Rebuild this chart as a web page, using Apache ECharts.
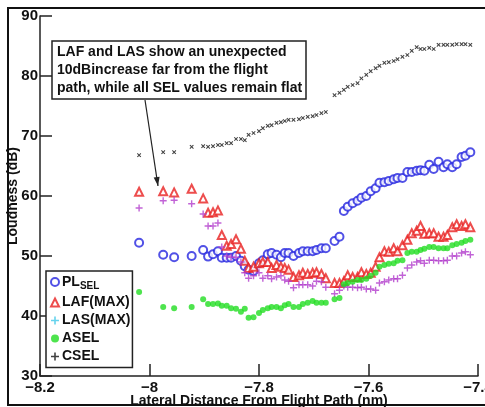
<!DOCTYPE html>
<html>
<head>
<meta charset="utf-8">
<script src="https://cdn.jsdelivr.net/npm/echarts@6/dist/echarts.min.js"></script>
<style>
html,body{margin:0;padding:0;background:#fff;}
#chart{width:485px;height:407px;}
</style>
</head>
<body>
<div id="chart"></div>
<script>
// Lateral distance from flight path (nm)
const distance = [-8.019,-7.975,-7.955,-7.923,-7.902,-7.893,-7.884,-7.875,-7.868,-7.859,-7.851,-7.842,-7.833,-7.826,-7.819,-7.810,-7.800,-7.793,-7.784,-7.777,-7.768,-7.760,-7.753,-7.746,-7.737,-7.727,-7.720,-7.711,-7.702,-7.695,-7.686,-7.678,-7.662,-7.653,-7.645,-7.638,-7.629,-7.620,-7.613,-7.604,-7.596,-7.587,-7.580,-7.571,-7.563,-7.554,-7.547,-7.538,-7.529,-7.521,-7.512,-7.505,-7.498,-7.489,-7.481,-7.472,-7.463,-7.456,-7.447,-7.439,-7.430,-7.423,-7.414];
const plSel = [52.2,50.2,49.8,50.0,51.0,49.9,50.3,50.8,49.7,49.7,49.7,50.0,49.2,48.3,47.7,47.5,48.8,49.3,50.3,50.5,50.2,49.8,50.5,50.5,50.0,50.5,50.8,50.8,50.8,51.0,51.3,51.3,52.5,53.2,57.5,58.2,58.8,59.2,59.7,60.0,60.8,61.3,62.2,62.3,62.5,62.8,63.0,63.0,64.0,64.0,64.2,64.3,64.2,65.2,64.5,65.7,64.8,65.3,64.8,65.3,66.5,66.7,67.3];
const lafMax = [60.7,60.8,60.6,61.2,59.6,57.2,57.3,57.6,53.5,51.7,52.0,52.8,51.2,49.2,48.0,48.2,48.8,49.0,49.0,48.0,48.5,48.2,48.0,47.7,46.5,46.8,47.2,47.0,47.2,47.3,47.0,46.3,45.5,45.5,45.8,46.8,46.5,46.5,47.3,47.0,47.2,48.2,49.8,50.8,50.7,51.3,50.8,51.8,52.7,53.8,54.2,55.0,53.7,53.8,53.8,53.2,53.2,53.5,54.8,55.3,55.0,55.3,54.8];
const lasMax = [58.0,59.2,59.3,58.7,57.0,55.0,55.0,55.5,51.5,50.0,49.8,49.8,49.0,47.2,46.3,46.7,47.2,46.3,46.7,46.2,46.5,46.7,46.0,45.8,44.7,45.2,45.2,45.2,45.0,45.8,45.7,44.8,43.7,44.3,45.0,44.8,44.8,44.7,44.8,44.5,44.5,44.3,45.5,45.7,46.0,46.2,46.2,46.8,48.0,48.5,49.0,49.2,48.8,49.3,49.3,49.2,49.2,49.3,50.0,50.0,50.5,50.7,50.2];
const aSel = [44.0,41.5,41.3,41.5,42.8,42.0,42.0,42.1,41.7,41.7,41.3,41.2,40.7,41.2,39.7,39.8,40.5,41.0,41.3,41.5,41.5,41.3,41.8,42.0,41.5,41.5,42.0,42.2,42.5,42.2,42.2,42.2,42.8,43.0,45.3,45.5,45.7,46.0,46.0,46.2,46.7,47.2,48.2,48.5,48.7,48.8,49.2,49.3,50.5,50.7,50.7,51.0,51.2,51.5,51.5,51.3,51.3,51.3,51.8,52.0,52.2,52.5,52.7];
const cSel = [66.8,67.3,67.3,68.2,68.3,68.2,68.3,68.5,68.5,68.8,68.8,69.5,69.5,69.3,70.2,70.5,70.8,71.3,71.7,71.8,72.2,72.3,72.5,72.7,72.7,72.8,73.0,73.2,73.3,73.5,73.8,74.0,76.8,77.2,77.7,78.2,78.5,78.8,79.6,80.2,80.8,81.3,81.7,82.2,82.3,82.5,82.8,83.2,83.5,84.2,84.8,84.5,84.5,84.7,84.5,85.2,85.2,85.2,85.2,85.3,85.3,85.3,85.2];
const seriesNames = ['PL_SEL','LAF(MAX)','LAS(MAX)','ASEL','CSEL'];
const annotationLines = ['LAF and LAS show an unexpected','10dBincrease far from the flight','path, while all SEL values remain flat'];

const FONT = '"Liberation Sans", Arial, Helvetica, sans-serif';
const PLUS = 'path://M4,0H6V4H10V6H6V10H4V6H0V4H4Z';
const pair = ys => distance.map((x, i) => [x, ys[i]]);
const fmt = v => { const r = Math.round(v * 10) / 10; return String(r).replace('-', '\u2212'); };

const chart = echarts.init(document.getElementById('chart'), null, {renderer: 'canvas'});

const arrowStart = [145, 100], arrowEnd = [158, 186];
const ang = Math.atan2(arrowEnd[1] - arrowStart[1], arrowEnd[0] - arrowStart[0]);
const ah = 9, aw = 3;
const headPts = [
  arrowEnd,
  [arrowEnd[0] - ah * Math.cos(ang) + aw * Math.sin(ang), arrowEnd[1] - ah * Math.sin(ang) - aw * Math.cos(ang)],
  [arrowEnd[0] - ah * Math.cos(ang) - aw * Math.sin(ang), arrowEnd[1] - ah * Math.sin(ang) + aw * Math.cos(ang)]
];

chart.setOption({
  animation: false,
  backgroundColor: '#fff',
  grid: {left: 40, right: 7, top: 16, bottom: 31, containLabel: false, outerBoundsMode: 'none'},
  xAxis: {
    type: 'value', min: -8.2, max: -7.4, interval: 0.2,
    name: 'Lateral Distance From Flight Path (nm)', nameLocation: 'middle', nameGap: 18, nameMoveOverlap: false,
    nameTextStyle: {fontFamily: FONT, fontWeight: 'bold', fontSize: 14, color: '#111'},
    axisLine: {show: true, lineStyle: {color: '#222', width: 1.5}},
    axisTick: {show: true, inside: true, length: 12, lineStyle: {color: '#222', width: 1.5}},
    axisLabel: {formatter: fmt, fontFamily: FONT, fontWeight: 'bold', fontSize: 15, color: '#111', margin: 4},
    splitLine: {show: false}
  },
  yAxis: {
    type: 'value', min: 30, max: 90, interval: 10,
    name: 'Loudness (dB)', nameLocation: 'middle', nameGap: 20, nameMoveOverlap: false,
    nameTextStyle: {fontFamily: FONT, fontWeight: 'bold', fontSize: 14, color: '#111'},
    axisLine: {show: true, lineStyle: {color: '#222', width: 1.5}},
    axisTick: {show: true, inside: true, length: 12, lineStyle: {color: '#222', width: 1.5}},
    axisLabel: {fontFamily: FONT, fontWeight: 'bold', fontSize: 15, color: '#111', margin: 2},
    splitLine: {show: false}
  },
  legend: {
    orient: 'vertical', left: 46, top: 271,
    padding: [4, 2, 4, 4], itemGap: 4, itemWidth: 8, itemHeight: 8,
    borderColor: '#222', borderWidth: 1.5, backgroundColor: '#fff',
    data: [
      {name: seriesNames[0]},
      {name: seriesNames[1]},
      {name: seriesNames[2], itemStyle: {color: '#40c8e8'}},
      {name: seriesNames[3]},
      {name: seriesNames[4]}
    ],
    formatter: n => n === 'PL_SEL' ? '{a|PL}{s|SEL}' : n,
    textStyle: {
      fontFamily: FONT, fontWeight: 'bold', fontSize: 14, color: '#111', padding: [0, 0, 0, -2],
      rich: {
        a: {fontFamily: FONT, fontWeight: 'bold', fontSize: 14, color: '#111'},
        s: {fontFamily: FONT, fontWeight: 'bold', fontSize: 10, color: '#111', padding: [9, 0, 0, 0]}
      }
    }
  },
  series: [
    {name: seriesNames[0], type: 'scatter', data: pair(plSel), symbol: 'emptyCircle', symbolSize: 8,
     itemStyle: {color: '#2626e0', borderWidth: 1.4}, z: 3},
    {name: seriesNames[1], type: 'scatter', data: pair(lafMax), symbol: 'emptyTriangle', symbolSize: 8,
     itemStyle: {color: '#e82020', borderWidth: 1.4}, z: 4},
    {name: seriesNames[2], type: 'scatter', data: pair(lasMax), symbol: PLUS, symbolSize: 7,
     itemStyle: {color: '#b23ccc'}, z: 5},
    {name: seriesNames[3], type: 'scatter', data: pair(aSel), symbol: 'circle', symbolSize: 6,
     itemStyle: {color: '#22dd22'}, z: 6},
    {name: seriesNames[4], type: 'scatter', data: pair(cSel), symbol: PLUS, symbolSize: 5, symbolRotate: 45,
     itemStyle: {color: '#111'}, z: 7}
  ],
  graphic: [
    {type: 'rect', shape: {x: 8, y: 8, width: 490, height: 397}, silent: true, z: 0,
     style: {fill: 'none', stroke: '#111', lineWidth: 2}},
    {type: 'rect', shape: {x: 52, y: 41, width: 254, height: 58}, z: 20,
     style: {fill: '#fff', stroke: '#222', lineWidth: 1.5}},
    {type: 'text', left: 57, top: 43, z: 21,
     style: {text: annotationLines.join('\n'), fontFamily: FONT, fontWeight: 'bold', fontSize: 14, lineHeight: 18, fill: '#111'}},
    {type: 'line', z: 20, shape: {x1: arrowStart[0], y1: arrowStart[1], x2: arrowEnd[0], y2: arrowEnd[1]},
     style: {stroke: '#222', lineWidth: 1.2}},
    {type: 'polygon', z: 20, shape: {points: headPts}, style: {fill: '#222'}}
  ]
});
</script>
</body>
</html>
